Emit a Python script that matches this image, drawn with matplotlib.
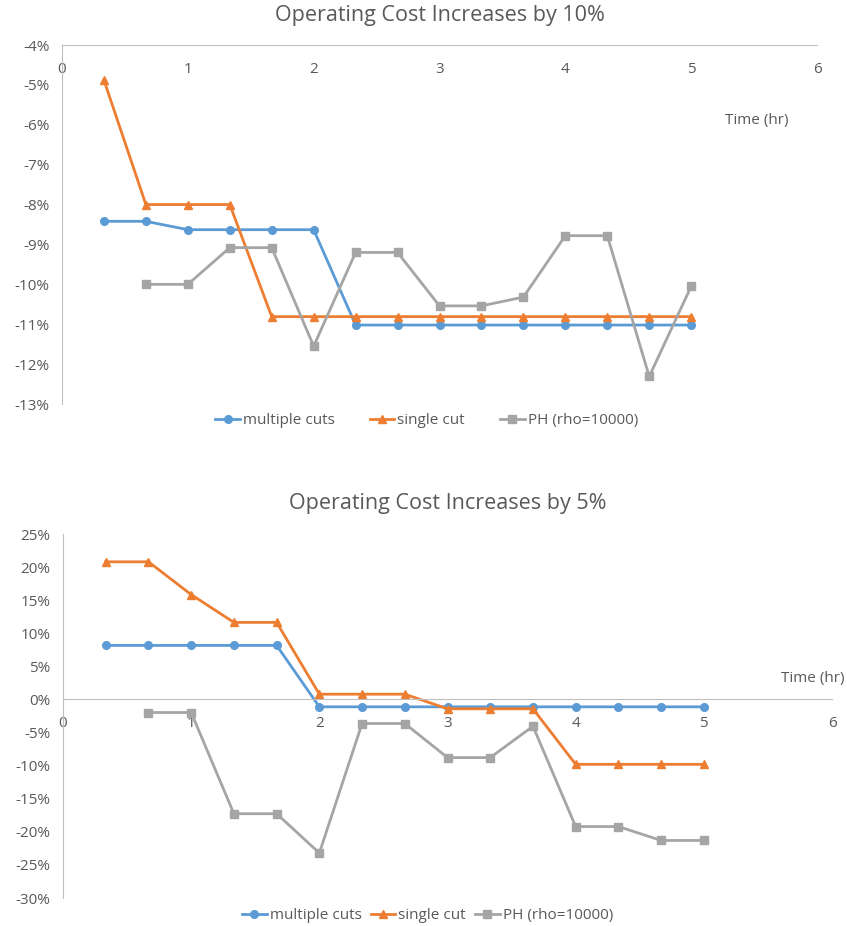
import matplotlib
matplotlib.use("Agg")
import matplotlib.pyplot as plt
from matplotlib.ticker import PercentFormatter, MultipleLocator

plt.rcParams['font.family'] = ['Open Sans', 'DejaVu Sans']
plt.rcParams['axes.unicode_minus'] = False

# time points (hr), every 20 minutes
t = [1/3, 2/3, 1, 4/3, 5/3, 2, 7/3, 8/3, 3, 10/3, 11/3, 4, 13/3, 14/3, 5]
t_ph = t[1:]

# Operating cost +10% (values in %)
multi_10 = [-8.42, -8.42, -8.63, -8.63, -8.63, -8.63, -11.02, -11.02, -11.02,
            -11.02, -11.02, -11.02, -11.02, -11.02, -11.02]
single_10 = [-4.88, -8.0, -8.0, -8.0, -10.81, -10.81, -10.81, -10.81, -10.81,
             -10.81, -10.81, -10.81, -10.81, -10.81, -10.81]
ph_10 = [-10.0, -10.0, -9.08, -9.08, -11.55, -9.2, -9.2, -10.54, -10.54,
         -10.32, -8.78, -8.78, -12.31, -10.05]

# Operating cost +5% (values in %)
multi_5 = [8.17, 8.17, 8.17, 8.17, 8.17, -1.11, -1.11, -1.11, -1.11,
           -1.11, -1.11, -1.11, -1.11, -1.11, -1.11]
single_5 = [20.8, 20.8, 15.85, 11.65, 11.65, 0.8, 0.8, 0.8, -1.41,
            -1.41, -1.41, -9.8, -9.8, -9.8, -9.8]
ph_5 = [-1.97, -1.97, -17.26, -17.26, -23.2, -3.63, -3.63, -8.78, -8.78,
        -4.04, -19.2, -19.2, -21.3, -21.3]

labels = ["multiple cuts", "single cut", "PH (rho=10000)"]
colors = ["#5B9BD5", "#ED7D31", "#A5A5A5"]
markers = ["o", "^", "s"]
text_col = "#595959"
axis_col = "#BFBFBF"

fig = plt.figure(figsize=(8.47, 9.26), dpi=100)
ax1 = fig.add_axes([0.0732, 0.5637, 0.8914, 0.3877])
ax2 = fig.add_axes([0.0744, 0.0302, 0.9079, 0.3931])


def style(ax, ylo, yhi, ystep, cross):
    ax.set_xlim(0, 6)
    ax.set_ylim(ylo, yhi)
    ax.xaxis.set_major_locator(MultipleLocator(1))
    ax.yaxis.set_major_locator(MultipleLocator(ystep))
    ax.yaxis.set_major_formatter(PercentFormatter(decimals=0))
    for s in ["top", "right"]:
        ax.spines[s].set_visible(False)
    ax.spines["bottom"].set_position(("data", cross))
    ax.spines["bottom"].set_color(axis_col)
    ax.spines["left"].set_color(axis_col)
    ax.tick_params(axis="both", length=0, labelsize=11, labelcolor=text_col)
    ax.tick_params(axis="x", pad=12)
    ax.tick_params(axis="y", pad=9)
    ax.patch.set_visible(False)


def draw(ax, series, xs):
    for y, x, lab, c, m in zip(series, xs, labels, colors, markers):
        ax.plot(x, y, color=c, marker=m, markersize=5.5, linewidth=2, label=lab)


draw(ax1, [multi_10, single_10, ph_10], [t, t, t_ph])
style(ax1, -13, -4, 1, -4)
ax1.set_title("Operating Cost Increases by 10%", fontsize=15.5, color=text_col, pad=17)
ax1.text(0.9205, 0.79, "Time (hr)", transform=ax1.transAxes, ha="center", va="center",
         fontsize=11, color=text_col)
ax1.legend(loc="upper center", bbox_to_anchor=(0.483, 0.012), ncol=3, frameon=False,
           fontsize=11, labelcolor=text_col, handlelength=1.6, handletextpad=0.2,
           columnspacing=2.3)

draw(ax2, [multi_5, single_5, ph_5], [t, t, t_ph])
style(ax2, -30, 25, 5, 0)
ax2.set_title("Operating Cost Increases by 5%", fontsize=15.5, color=text_col, pad=18)
ax2.text(0.975, 0.604, "Time (hr)", transform=ax2.transAxes, ha="center", va="center",
         fontsize=11, color=text_col)
ax2.legend(loc="upper center", bbox_to_anchor=(0.474, 0.01), ncol=3, frameon=False,
           fontsize=11, labelcolor=text_col, handlelength=1.6, handletextpad=0.2,
           columnspacing=0.6)

fig.savefig("out.png", dpi=100)
